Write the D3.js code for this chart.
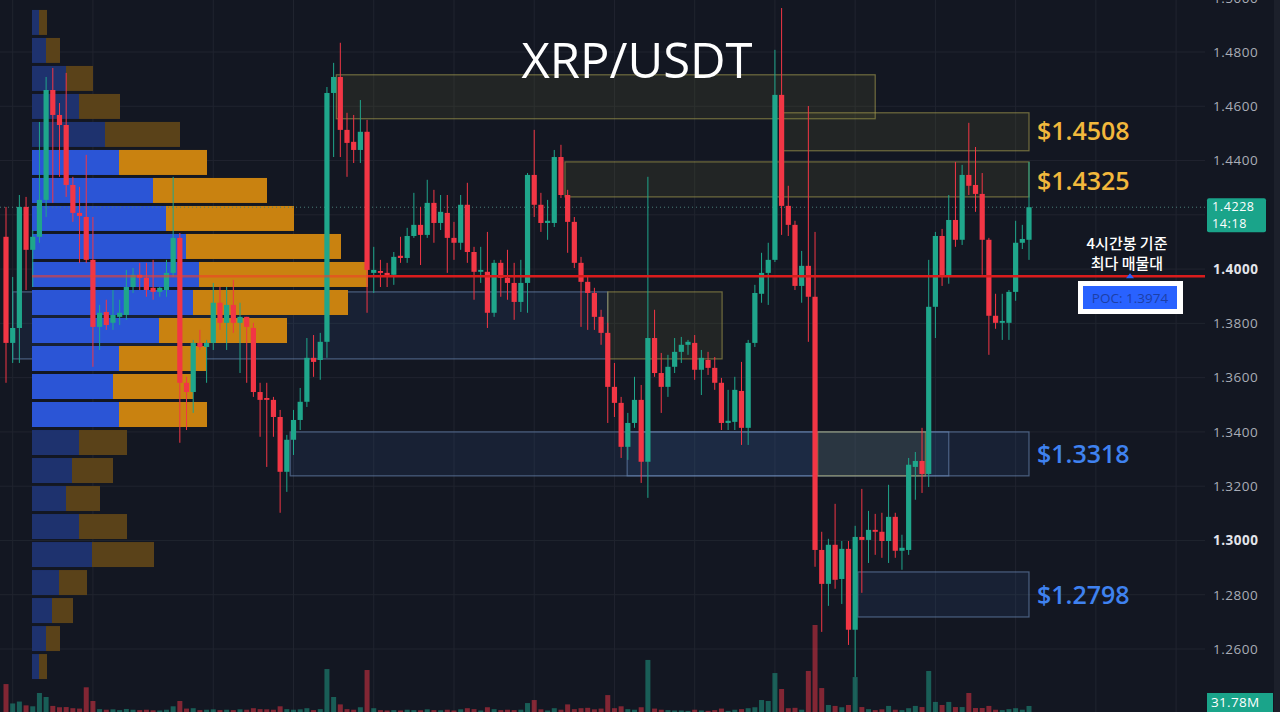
<!DOCTYPE html>
<html><head><meta charset="utf-8">
<script src="https://cdn.jsdelivr.net/npm/d3@7"></script>
<style>html,body{margin:0;padding:0;background:#131722;overflow:hidden}</style>
</head><body><svg id="c" width="1280" height="712"></svg>
<script>
// ---------------- DATA ----------------
const title = "XRP/USDT";
const opens = [1.4119,1.3728,1.3783,1.4229,1.4071,1.4119,1.4255,1.4660,1.4568,1.4531,
1.4310,1.4207,1.4192,1.4034,1.3787,1.3842,1.3802,1.3824,1.3831,1.3934,
1.3979,1.3968,1.3931,1.3916,1.3923,1.3986,1.4115,1.3581,1.3547,1.3728,
1.3713,1.3728,1.3876,1.3802,1.3868,1.3802,1.3824,1.3783,1.3547,1.3525,
1.3518,1.3455,1.3253,1.3371,1.3444,1.3511,1.3673,1.3665,1.3732,1.4649,
1.4708,1.4513,1.4469,1.4439,1.4506,1.3986,1.3993,1.3986,1.3979,1.4049,
1.4041,1.4122,1.4163,1.4126,1.4244,1.4170,1.4207,1.4115,1.4097,1.4237,
1.4063,1.3990,1.3990,1.3839,1.4023,1.3968,1.3949,1.3879,1.3949,1.4347,
1.4237,1.4170,1.4170,1.4413,1.4273,1.4174,1.4023,1.3953,1.3912,1.3824,
1.3765,1.3566,1.3507,1.3345,1.3433,1.3518,1.3290,1.3746,1.3617,1.3566,
1.3640,1.3695,1.3721,1.3728,1.3629,1.3665,1.3636,1.3581,1.3433,1.3437,
1.3551,1.3415,1.3728,1.3909,1.3986,1.4034,1.4642,1.4233,1.4163,1.3938,
1.4012,1.3898,1.2965,1.2840,1.2984,1.2858,1.2969,1.2671,1.3013,1.3002,
1.3039,1.3032,1.2998,1.3087,1.2962,1.2965,1.3271,1.3293,1.3245,1.3861,
1.4122,1.3971,1.4181,1.4108,1.4347,1.4310,1.4277,1.4108,1.3828,1.3802,
1.3802,1.3916,1.4097,1.4108];
const highs = [1.4229,1.3971,1.4273,1.4266,1.4144,1.4542,1.4708,1.4741,1.4612,1.4723,
1.4340,1.4303,1.4421,1.4192,1.3868,1.3887,1.3923,1.3887,1.3997,1.4004,
1.4023,1.4023,1.4034,1.3934,1.4034,1.4340,1.4133,1.3603,1.3739,1.3776,
1.3739,1.3949,1.3934,1.3934,1.3960,1.3876,1.3824,1.3802,1.3581,1.3581,
1.3529,1.3481,1.3389,1.3481,1.3562,1.3746,1.3757,1.3765,1.4671,1.4760,
1.4834,1.4576,1.4568,1.4623,1.4550,1.4082,1.4034,1.4023,1.4063,1.4119,
1.4152,1.4281,1.4229,1.4329,1.4292,1.4273,1.4273,1.4174,1.4273,1.4318,
1.4082,1.4082,1.4137,1.4034,1.4034,1.4071,1.4023,1.4034,1.4354,1.4513,
1.4281,1.4255,1.4439,1.4458,1.4292,1.4192,1.4045,1.3971,1.3931,1.3850,
1.3802,1.3654,1.3529,1.3470,1.3603,1.3573,1.4340,1.3850,1.3691,1.3684,
1.3746,1.3750,1.3739,1.3757,1.3702,1.3695,1.3676,1.3599,1.3555,1.3603,
1.3658,1.3739,1.3942,1.4060,1.4097,1.4808,1.4962,1.4307,1.4178,1.4067,
1.4601,1.4137,1.3032,1.3006,1.3135,1.2998,1.2998,1.3054,1.3190,1.3109,
1.3098,1.3102,1.3205,1.3102,1.3021,1.3304,1.3326,1.3415,1.4034,1.4137,
1.4148,1.4273,1.4395,1.4384,1.4539,1.4450,1.4354,1.4115,1.3909,1.3909,
1.3923,1.4178,1.4163,1.4395];
const lows = [1.3581,1.3654,1.3654,1.3923,1.3934,1.4097,1.4192,1.4244,1.4340,1.4266,
1.4174,1.4023,1.4023,1.3640,1.3702,1.3776,1.3776,1.3794,1.3813,1.3912,
1.3923,1.3898,1.3887,1.3898,1.3898,1.3971,1.3360,1.3407,1.3470,1.3702,
1.3581,1.3702,1.3776,1.3702,1.3765,1.3617,1.3581,1.3529,1.3382,1.3271,
1.3382,1.3102,1.3179,1.3315,1.3407,1.3492,1.3603,1.3592,1.3673,1.4413,
1.4413,1.4340,1.4391,1.4391,1.3839,1.3912,1.3934,1.3934,1.3942,1.4023,
1.4023,1.4115,1.4015,1.4115,1.4097,1.4144,1.3986,1.4034,1.4071,1.4023,
1.3887,1.3949,1.3783,1.3824,1.3898,1.3887,1.3813,1.3842,1.3839,1.4192,
1.4137,1.4108,1.4155,1.4262,1.4060,1.4004,1.3787,1.3776,1.3776,1.3721,
1.3433,1.3455,1.3304,1.3297,1.3415,1.3212,1.3157,1.3603,1.3470,1.3529,
1.3617,1.3654,1.3684,1.3592,1.3536,1.3610,1.3555,1.3407,1.3407,1.3407,
1.3352,1.3352,1.3713,1.3876,1.3868,1.4026,1.4126,1.4122,1.3923,1.3876,
1.3732,1.2903,1.2663,1.2759,1.2822,1.2766,1.2615,1.2497,1.2807,1.2917,
1.2947,1.2936,1.2917,1.2936,1.2892,1.2947,1.3150,1.3175,1.3197,1.3746,
1.3938,1.3946,1.4082,1.4089,1.4273,1.4211,1.3979,1.3684,1.3780,1.3739,
1.3739,1.3883,1.4074,1.4034];
const closes = [1.3728,1.3783,1.4229,1.4071,1.4119,1.4255,1.4660,1.4568,1.4531,1.4310,
1.4207,1.4196,1.4034,1.3787,1.3839,1.3794,1.3831,1.3839,1.3934,1.3979,
1.3968,1.3923,1.3916,1.3931,1.3986,1.4115,1.3581,1.3547,1.3728,1.3713,
1.3728,1.3876,1.3802,1.3868,1.3802,1.3824,1.3787,1.3547,1.3518,1.3518,
1.3455,1.3253,1.3371,1.3444,1.3511,1.3673,1.3658,1.3732,1.4649,1.4708,
1.4513,1.4465,1.4439,1.4506,1.3997,1.3997,1.3986,1.3975,1.4045,1.4041,
1.4122,1.4163,1.4126,1.4244,1.4170,1.4211,1.4115,1.4097,1.4237,1.4063,
1.3990,1.3997,1.3839,1.4023,1.3968,1.3949,1.3879,1.3949,1.4347,1.4237,
1.4170,1.4178,1.4413,1.4273,1.4174,1.4023,1.3953,1.3912,1.3824,1.3765,
1.3566,1.3507,1.3345,1.3433,1.3518,1.3290,1.3746,1.3617,1.3566,1.3640,
1.3695,1.3721,1.3732,1.3629,1.3673,1.3636,1.3581,1.3433,1.3441,1.3555,
1.3415,1.3728,1.3912,1.3986,1.4034,1.4642,1.4233,1.4163,1.3938,1.4012,
1.3898,1.2965,1.2840,1.2984,1.2855,1.2969,1.2671,1.3013,1.3002,1.3039,
1.3032,1.2998,1.3087,1.2962,1.2973,1.3279,1.3293,1.3245,1.3861,1.4122,
1.3971,1.4181,1.4108,1.4347,1.4307,1.4277,1.4108,1.3828,1.3802,1.3809,
1.3916,1.4097,1.4111,1.4228];
// volume in millions
const volumes = [147,45,55,35,30,100,79,32,25,26,20,18,130,58,15,12,14,10,16,12,
10,12,9,8,12,30,58,18,20,10,12,14,10,12,10,14,12,20,15,14,
12,30,15,12,14,20,10,15,226,79,40,15,12,25,221,20,10,8,10,8,
12,10,9,14,10,9,12,8,14,20,15,8,25,15,10,12,10,12,47,63,
14,8,20,12,40,15,20,22,14,18,89,20,30,15,12,25,274,18,12,10,
8,8,6,12,8,6,10,18,6,12,15,20,25,63,58,205,121,20,22,12,
216,458,126,37,32,25,37,184,26,15,10,14,32,12,10,20,32,26,216,53,
37,53,26,26,100,21,21,32,12,10,15,20,12,31.78];
// volume profile rows (top to bottom), buy / sell
const profileTop = 1.4955, profileStep = 0.01032;
const profileBuy  = [7,14,34,47,73,87,121,134,154,167,161,127,87,81,87,47,40,34,47,60,27,20,14,7];
const profileSell = [8,14,27,41,75,88,114,128,155,169,155,128,87,80,88,48,41,34,48,62,28,21,14,8];
const valueAreaRows = [5,14];
// zones: start index, end index, top price, bottom price, kind
const zoneStart = [49.4,116.2,83.6,1,90,42.5,92.9,121.4,127.4];
const zoneEnd   = [130,153,153,90,107.1,153,141,137.5,153];
const zoneTop   = [1.4716,1.4576,1.4395,1.3916,1.3916,1.3400,1.3400,1.3400,1.2884];
const zoneBot   = [1.4554,1.4436,1.4266,1.3669,1.3669,1.3238,1.3238,1.3238,1.2718];
const zoneKind  = ["supply","supply","supply","demand","supply","demand","demand","supply","demand"];
const levelLabels = ["$1.4508","$1.4325","$1.3318","$1.2798"];
const levelPrices = [1.4508,1.4325,1.3318,1.2798];
const levelKinds = ["supply","supply","demand","demand"];
const priceTicks = [1.50,1.48,1.46,1.44,1.42,1.40,1.38,1.36,1.34,1.32,1.30,1.28,1.26];
const gridIdx = [1,13,31,43,55,67,79,91,103,115,127,139,151,163,175];
const pocPrice = 1.3974;
const lastPrice = 1.4228, lastTime = "14:18", lastVolume = "31.78M";
const noteLines = ["4시간봉 기준","최다 매물대"];

// ---------------- CHART ----------------
const svg = d3.select('#c');
const W = 1280, H = 712;
const x = d3.scaleLinear().domain([0,153]).range([6,1029]);
const y = d3.scaleLinear().domain([1.26,1.48]).range([649,52]);
const vy = d3.scaleLinear().domain([0,500]).range([712,617]);
const px = d3.scaleLinear().domain([0,336]).range([32,368]);
const UP = "#1fa68b", DN = "#f23645";
const font = "'Open Sans','Noto Sans',sans-serif";

svg.append('rect').attr('width',W).attr('height',H).attr('fill','#131722');
svg.append('rect').attr('x',1274).attr('width',6).attr('height',H).attr('fill','#1c202b');

// grid
const g = svg.append('g');
g.selectAll('.hg').data(priceTicks).join('line')
  .attr('x1',0).attr('x2',1205).attr('y1',d=>y(d)).attr('y2',d=>y(d))
  .attr('stroke','#20242f').attr('stroke-width',1);
g.selectAll('.vg').data(gridIdx).join('line')
  .attr('x1',d=>x(d)).attr('x2',d=>x(d)).attr('y1',0).attr('y2',H)
  .attr('stroke','#20242f').attr('stroke-width',1);

// zones
const zones = zoneStart.map((s,i)=>({s, e:zoneEnd[i], t:zoneTop[i], b:zoneBot[i], k:zoneKind[i]}));
svg.append('g').selectAll('rect').data(zones).join('rect')
  .attr('x',d=>x(d.s)).attr('width',d=>x(d.e)-x(d.s))
  .attr('y',d=>y(d.t)).attr('height',d=>y(d.b)-y(d.t))
  .attr('fill',d=>d.k==='supply'?'rgba(130,125,60,0.14)':'rgba(60,100,160,0.14)')
  .attr('stroke',d=>d.k==='supply'?'rgba(170,160,80,0.6)':'rgba(110,140,185,0.6)')
  .attr('stroke-width',1.2);

// volume profile
const prof = svg.append('g');
profileBuy.forEach((b,i)=>{
  const y0 = y(profileTop - i*profileStep), y1 = y(profileTop-(i+1)*profileStep);
  const inVA = i>=valueAreaRows[0] && i<=valueAreaRows[1];
  prof.append('rect').attr('x',px(0)).attr('y',y0).attr('width',px(b)-px(0)).attr('height',y1-y0-3)
    .attr('fill',inVA?'#2b55d6':'#1e326e');
  prof.append('rect').attr('x',px(b)).attr('y',y0).attr('width',px(b+profileSell[i])-px(b)).attr('height',y1-y0-3)
    .attr('fill',inVA?'#c98210':'#5a4219');
});

// volume bars
const data = opens.map((o,i)=>({i,o,h:highs[i],l:lows[i],c:closes[i],v:volumes[i]}));
svg.append('g').selectAll('rect').data(data).join('rect')
  .attr('x',d=>x(d.i)-2.5).attr('width',5)
  .attr('y',d=>vy(d.v)).attr('height',d=>H-vy(d.v))
  .attr('fill',d=>d.c>=d.o?'rgba(31,166,139,0.5)':'rgba(242,54,69,0.5)');

// last price dotted line
svg.append('line').attr('x1',0).attr('x2',1207).attr('y1',y(lastPrice)).attr('y2',y(lastPrice))
  .attr('stroke','#4a7d78').attr('stroke-width',1).attr('stroke-dasharray','1,3');

// candles
const cg = svg.append('g');
cg.selectAll('line').data(data).join('line')
  .attr('x1',d=>x(d.i)).attr('x2',d=>x(d.i)).attr('y1',d=>y(d.h)).attr('y2',d=>y(d.l))
  .attr('stroke',d=>d.c>=d.o?UP:DN).attr('stroke-width',1);
cg.selectAll('rect').data(data).join('rect')
  .attr('x',d=>x(d.i)-2.6).attr('width',5.2)
  .attr('y',d=>y(Math.max(d.o,d.c)))
  .attr('height',d=>Math.max(1.5,Math.abs(y(d.o)-y(d.c))))
  .attr('fill',d=>d.c>=d.o?UP:DN);

// POC line
svg.append('line').attr('x1',32).attr('x2',368).attr('y1',y(pocPrice)).attr('y2',y(pocPrice))
  .attr('stroke','#f0402a').attr('stroke-opacity',0.6).attr('stroke-width',2.5);
svg.append('line').attr('x1',368).attr('x2',1205).attr('y1',y(pocPrice)).attr('y2',y(pocPrice))
  .attr('stroke','#d91c1c').attr('stroke-width',2.5);

// title
svg.append('text').attr('x',637).attr('y',78).attr('text-anchor','middle')
  .attr('font-family',font).attr('font-size',49).attr('font-weight',500).attr('fill','#ffffff').text(title);

// level labels
svg.append('g').selectAll('text').data(levelLabels).join('text')
  .attr('x',1037).attr('y',(d,i)=>y(levelPrices[i])+9)
  .attr('font-family',font).attr('font-size',25).attr('font-weight',600)
  .attr('fill',(d,i)=>levelKinds[i]==='supply'?'#f2b83c':'#3f82f0').text(d=>d);

// note
svg.append('g').selectAll('text').data(noteLines).join('text')
  .attr('x',1127).attr('y',(d,i)=>249+i*20).attr('text-anchor','middle')
  .attr('font-family',"'Noto Sans CJK KR',sans-serif").attr('font-size',15).attr('font-weight',500)
  .attr('fill','#ffffff').text(d=>d);

// POC box
svg.append('rect').attr('x',1078).attr('y',281).attr('width',105).attr('height',33).attr('fill','#ffffff');
svg.append('rect').attr('x',1083).attr('y',286).attr('width',94).attr('height',23).attr('fill','#2962ff');
svg.append('text').attr('x',1130).attr('y',302.5).attr('text-anchor','middle')
  .attr('font-family',font).attr('font-size',13.5).attr('fill','#1d3fa6').text('POC: '+pocPrice.toFixed(4));
svg.append('path').attr('d',`M1126,${y(pocPrice)+2} L1130,${y(pocPrice)-3} L1134,${y(pocPrice)+2} Z`).attr('fill','#2962ff');

// right axis
const axis = d3.axisRight(y).tickValues(priceTicks.filter(d=>Math.abs(d-1.42)>1e-9)).tickFormat(d3.format('.4f')).tickSize(0);
const ag = svg.append('g').attr('transform','translate(1207,0)').call(axis);
ag.select('.domain').remove();
const isRound = d=>(Math.abs(d-1.40)<1e-9||Math.abs(d-1.30)<1e-9);
ag.selectAll('text').attr('x',6).attr('font-family',font).attr('font-size',13.5).attr('letter-spacing',0.5)
  .attr('fill',d=>isRound(d)?'#e3e5eb':'#a9adb7')
  .attr('font-weight',d=>isRound(d)?700:400);

// last price label
svg.append('rect').attr('x',1207).attr('y',y(lastPrice)-9).attr('width',59).attr('height',34).attr('fill','#1aa48a').attr('rx',2);
svg.append('text').attr('x',1212).attr('y',y(lastPrice)+4).attr('font-family',font).attr('font-size',12.5).attr('letter-spacing',0.6).attr('fill','#fff').text(lastPrice.toFixed(4));
svg.append('text').attr('x',1212).attr('y',y(lastPrice)+20.5).attr('font-family',font).attr('font-size',12.5).attr('letter-spacing',0.6).attr('fill','#fff').text(lastTime);
// volume label
svg.append('rect').attr('x',1207).attr('y',693).attr('width',66).attr('height',19).attr('fill','#1aa48a');
svg.append('text').attr('x',1211).attr('y',707).attr('font-family',font).attr('font-size',13.5).attr('letter-spacing',0.3).attr('fill','#fff').text(lastVolume);
</script></body></html>
